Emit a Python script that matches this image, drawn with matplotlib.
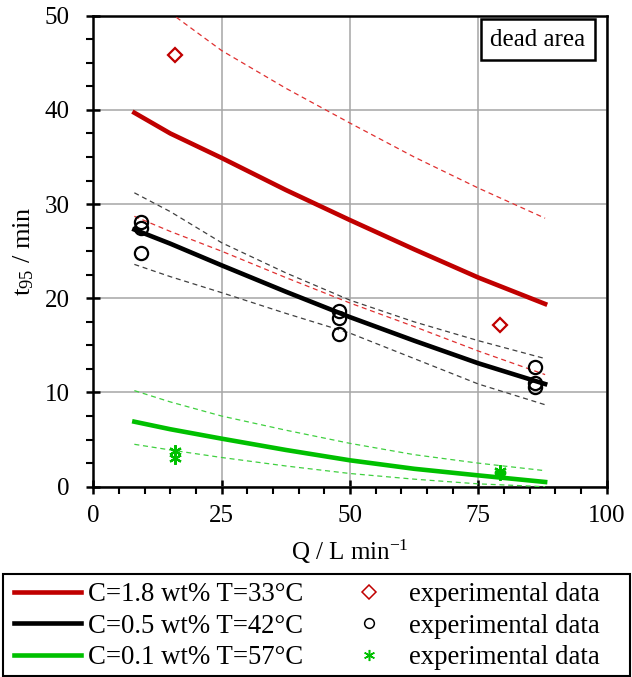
import numpy as np
import matplotlib
matplotlib.use('Agg')
import matplotlib.pyplot as plt
from matplotlib.ticker import MultipleLocator
from matplotlib.lines import Line2D
from matplotlib.patches import Rectangle

plt.rcParams['font.family'] = 'Liberation Serif'
plt.rcParams['mathtext.fontset'] = 'custom'
plt.rcParams['mathtext.rm'] = 'Liberation Serif'
plt.rcParams['mathtext.it'] = 'Liberation Serif:italic'

# model curves, Q in L/min
q_fit = [8, 15, 25, 37.5, 50, 62.5, 75, 88]
red_fit = [39.7, 37.5, 34.9, 31.5, 28.3, 25.2, 22.2, 19.4]
red_up = [54.5, 50.3, 46.3, 42.3, 38.6, 35.0, 31.7, 28.5]
red_lo = [28.7, 27.1, 25.0, 22.2, 19.5, 17.0, 14.4, 11.9]
black_fit = [27.3, 25.8, 23.5, 20.7, 18.0, 15.5, 13.1, 10.9]
black_up = [31.2, 29.2, 25.9, 22.7, 19.8, 17.5, 15.5, 13.6]
black_lo = [23.6, 22.3, 20.6, 18.4, 16.3, 13.6, 10.9, 8.7]
green_fit = [6.9, 6.1, 5.1, 3.9, 2.8, 1.9, 1.2, 0.5]
green_up = [10.2, 9.0, 7.5, 6.0, 4.6, 3.4, 2.5, 1.7]
green_lo = [4.5, 3.9, 3.1, 2.2, 1.4, 0.8, 0.3, 0.0]

# experimental data
q_red = [16.0, 79.3]
t_red = [45.8, 17.2]
q_black = [9.3, 9.3, 9.3, 47.8, 47.8, 47.8, 86.0, 86.0, 86.0]
t_black = [28.1, 27.5, 24.8, 18.6, 17.9, 16.2, 12.7, 11.0, 10.6]
q_green = [16.0, 16.0, 79.3, 79.3]
t_green = [3.8, 3.0, 1.7, 1.4]

red = '#C00000'
green = '#00C000'

fig = plt.figure(figsize=(6.32, 6.77), dpi=100)
ax = fig.add_axes([0.1476, 0.2811, 0.8124, 0.6957])

ax.plot(q_fit, red_fit, color=red, lw=3.3, zorder=4)
ax.plot(q_fit, black_fit, color='black', lw=3.3, zorder=4)
ax.plot(q_fit, green_fit, color=green, lw=3.3, zorder=4)
ax.plot(q_fit, red_up, color='#E03030', lw=0.9, ls=(0, (4, 3)), zorder=3)
ax.plot(q_fit, red_lo, color='#E03030', lw=0.9, ls=(0, (4, 3)), zorder=3)
ax.plot(q_fit, black_up, color='#404040', lw=0.9, ls=(0, (4, 3)), zorder=3)
ax.plot(q_fit, black_lo, color='#404040', lw=0.9, ls=(0, (4, 3)), zorder=3)
ax.plot(q_fit, green_up, color='#40D040', lw=0.9, ls=(0, (4, 3)), zorder=3)
ax.plot(q_fit, green_lo, color='#40D040', lw=0.9, ls=(0, (4, 3)), zorder=3)

ax.plot(q_red, t_red, ls='none', marker='D', ms=7, mfc='none', mec=red, mew=1.6, zorder=5)
ax.plot(q_black, t_black, ls='none', marker='o', ms=9.5, mfc='none', mec='black', mew=1.6, zorder=5)
ax.plot(q_green, t_green, ls='none', marker=(6, 2, 0), ms=9, mec=green, mew=1.6, zorder=5)

ax.set_xlim(0, 100)
ax.set_ylim(0, 50)
ax.xaxis.set_major_locator(MultipleLocator(25))
ax.xaxis.set_minor_locator(MultipleLocator(5))
ax.yaxis.set_major_locator(MultipleLocator(10))
ax.yaxis.set_minor_locator(MultipleLocator(2.5))
ax.grid(True, which='major', color='#a6a6a6', lw=1.1)
ax.set_axisbelow(True)
for s in ax.spines.values():
    s.set_linewidth(1.8)
ax.tick_params(which='major', direction='inout', length=10, width=1.8, labelsize=18)
ax.tick_params(which='minor', direction='out', length=5, width=1.5)
ax.tick_params(axis='x', pad=8)
ax.tick_params(axis='y', pad=12)
ax.set_xlabel('Q / L min$^{-1}$', fontsize=18, labelpad=8)
ax.set_ylabel('t$_{95}$ / min', fontsize=19, labelpad=6)

ax.text(0.958, 0.972, 'dead area', transform=ax.transAxes, ha='right', va='top', fontsize=18,
        bbox=dict(boxstyle='square,pad=0.38', fc='white', ec='black', lw=1.8), zorder=6)

handles = [Line2D([], [], color=red, lw=3.3),
           Line2D([], [], color='black', lw=3.3),
           Line2D([], [], color=green, lw=3.3),
           Line2D([], [], ls='none', marker='D', ms=7, mfc='none', mec=red, mew=1.1),
           Line2D([], [], ls='none', marker='o', ms=7, mfc='none', mec='black', mew=1.1),
           Line2D([], [], ls='none', marker=(6, 2, 0), ms=8, mec=green, mew=1.1)]
labels = ['C=1.8 wt% T=33°C', 'C=0.5 wt% T=42°C', 'C=0.1 wt% T=57°C',
          'experimental data', 'experimental data', 'experimental data']
leg = fig.legend(handles, labels, ncol=2, loc='upper left',
                 bbox_to_anchor=(14 / 632, 1 - 582 / 677),
                 fontsize=19.3, frameon=False,
                 handlelength=2.5, handletextpad=0.25, labelspacing=0.25,
                 borderpad=0, borderaxespad=0, columnspacing=1.2)

# legend frame spans the full figure width
fig.patches.append(Rectangle((3 / 632, 1 - 676 / 677), 627 / 632, 102 / 677,
                             transform=fig.transFigure, fill=False, ec='black', lw=1.5))

fig.savefig('out.png', dpi=100)
